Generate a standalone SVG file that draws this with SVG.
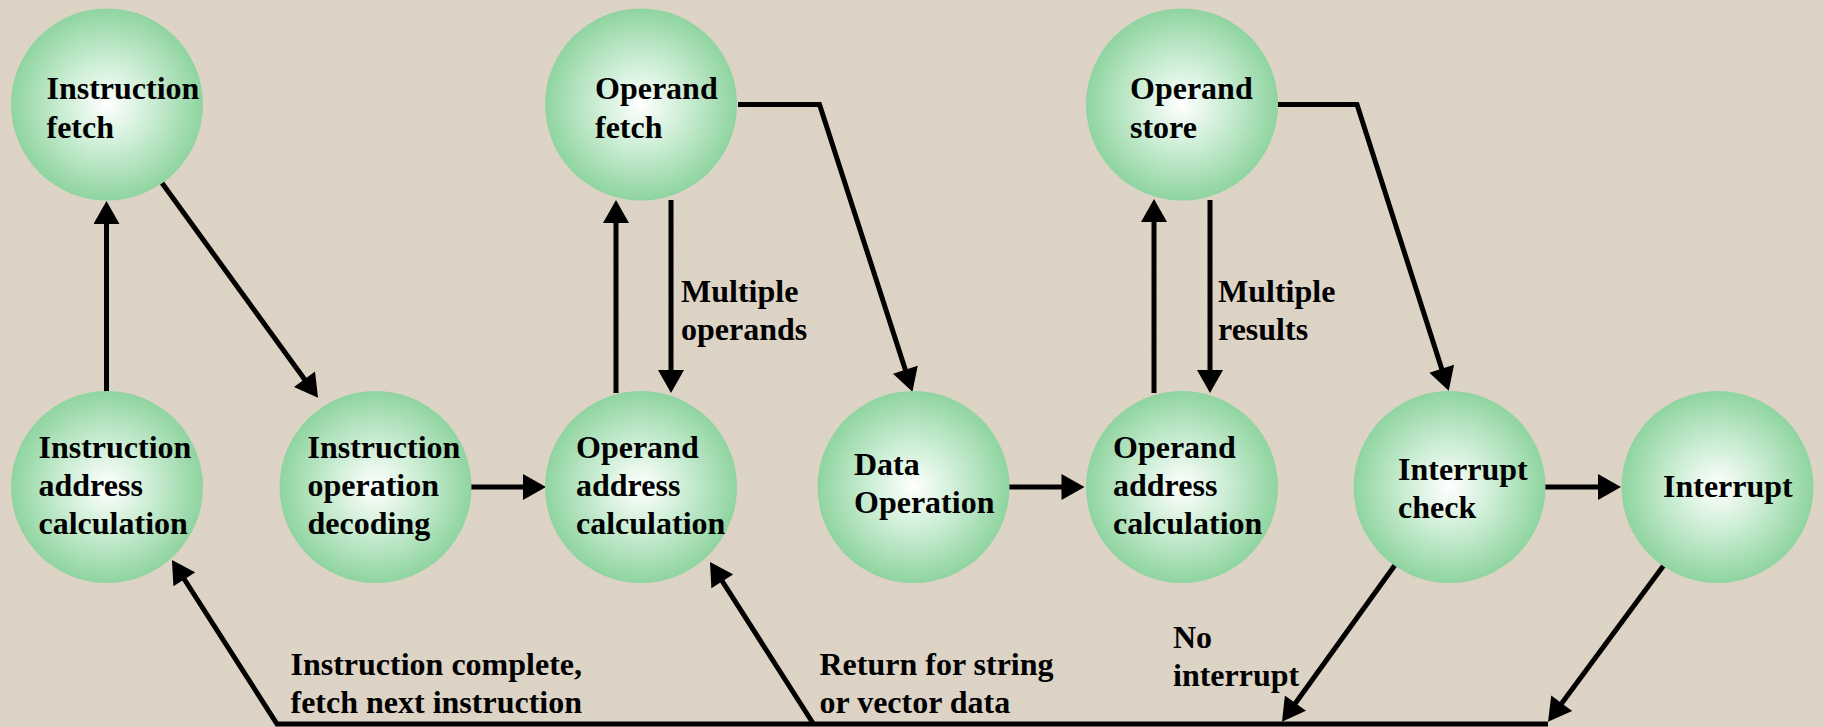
<svg xmlns="http://www.w3.org/2000/svg" width="1824" height="727" viewBox="0 0 1824 727">
  <defs>
    <radialGradient id="ball" cx="50%" cy="50%" r="50%">
      <stop offset="0" stop-color="#ffffff"/>
      <stop offset="0.45" stop-color="#cdeed5"/>
      <stop offset="1" stop-color="#8fd4a0"/>
    </radialGradient>
    <marker id="ah" markerUnits="userSpaceOnUse" markerWidth="26" markerHeight="26" refX="17" refY="13" orient="auto" viewBox="0 0 24 26">
      <path d="M0,0 L23,13 L0,26 Z" fill="#000"/>
    </marker>
    <filter id="grain" x="0" y="0" width="100%" height="100%">
      <feTurbulence type="fractalNoise" baseFrequency="0.9" numOctaves="2" seed="3" result="n"/>
      <feColorMatrix in="n" type="matrix" values="0 0 0 0 0.55  0 0 0 0 0.5  0 0 0 0 0.44  0 0 0 -1.2 0.75" result="c"/>
      <feComposite in="c" in2="SourceGraphic" operator="in"/>
    </filter>
  </defs>
  <style>
    .node ellipse { fill: url(#ball); }
    text { font-family: "Liberation Serif", "Times New Roman", serif; font-weight: bold; font-size: 32px; fill: #000; }
    .conn path { fill: none; stroke: #000; stroke-width: 5; }
    .arr { marker-end: url(#ah); }
  </style>
  <rect x="0" y="0" width="1824" height="727" fill="#ded5c7"/>
  <rect x="0" y="0" width="1824" height="727" fill="#ded5c7" filter="url(#grain)" opacity="0.35"/>

  <g id="connectors" class="conn">
    <path class="arr" d="M106.5,392 L106.5,207"/>
    <path class="arr" d="M162,183 L314.5,393"/>
    <path class="arr" d="M470,487 L540,487"/>
    <path class="arr" d="M616,393 L616,206"/>
    <path class="arr" d="M671,200 L671,387"/>
    <path class="arr" d="M738,104.5 L819.5,104.5 L910.6,386"/>
    <path class="arr" d="M1007,487 L1078.5,487"/>
    <path class="arr" d="M1154,393 L1154,205"/>
    <path class="arr" d="M1210,200 L1210,387"/>
    <path class="arr" d="M1276,104.5 L1357,104.5 L1446.9,385"/>
    <path class="arr" d="M1544,487 L1615,487"/>
    <path class="arr" d="M1395,565 L1285.5,717"/>
    <path class="arr" d="M1664,565 L1551.6,717"/>
    <path class="arr" d="M1548,724 L277,724 L175.2,565"/>
    <path class="arr" d="M813.5,724 L713.2,567"/>
  </g>

  <g id="n-instruction-fetch" class="node">
    <ellipse cx="107" cy="104.5" rx="96" ry="96"/>
    <text x="46.5" y="99">Instruction</text>
    <text x="46.5" y="137.5">fetch</text>
  </g>
  <g id="n-operand-fetch" class="node">
    <ellipse cx="641" cy="104.5" rx="96" ry="96"/>
    <text x="595" y="99">Operand</text>
    <text x="595" y="137.5">fetch</text>
  </g>
  <g id="n-operand-store" class="node">
    <ellipse cx="1182" cy="104.5" rx="96" ry="96"/>
    <text x="1130" y="99">Operand</text>
    <text x="1130" y="137.5">store</text>
  </g>
  <g id="n-instr-addr-calc" class="node">
    <ellipse cx="107" cy="487" rx="96" ry="96"/>
    <text x="38.5" y="457.5">Instruction</text>
    <text x="38.5" y="495.5">address</text>
    <text x="38.5" y="533.5">calculation</text>
  </g>
  <g id="n-instr-op-decoding" class="node">
    <ellipse cx="375.5" cy="487" rx="96" ry="96"/>
    <text x="307.5" y="457.5">Instruction</text>
    <text x="307.5" y="495.5">operation</text>
    <text x="307.5" y="533.5">decoding</text>
  </g>
  <g id="n-operand-addr-calc-1" class="node">
    <ellipse cx="641" cy="487" rx="96" ry="96"/>
    <text x="576" y="457.5">Operand</text>
    <text x="576" y="495.5">address</text>
    <text x="576" y="533.5">calculation</text>
  </g>
  <g id="n-data-operation" class="node">
    <ellipse cx="913.5" cy="487" rx="96" ry="96"/>
    <text x="854" y="475">Data</text>
    <text x="854" y="513">Operation</text>
  </g>
  <g id="n-operand-addr-calc-2" class="node">
    <ellipse cx="1182" cy="487" rx="96" ry="96"/>
    <text x="1113" y="457.5">Operand</text>
    <text x="1113" y="495.5">address</text>
    <text x="1113" y="533.5">calculation</text>
  </g>
  <g id="n-interrupt-check" class="node">
    <ellipse cx="1449.5" cy="487" rx="96" ry="96"/>
    <text x="1398" y="480">Interrupt</text>
    <text x="1398" y="518">check</text>
  </g>
  <g id="n-interrupt" class="node">
    <ellipse cx="1717.5" cy="487" rx="96" ry="96"/>
    <text x="1663" y="496.5">Interrupt</text>
  </g>

  <g id="labels">
    <text x="681" y="301.5">Multiple</text>
    <text x="681" y="340">operands</text>
    <text x="1218" y="301.5">Multiple</text>
    <text x="1218" y="340">results</text>
    <text x="290.5" y="675">Instruction complete,</text>
    <text x="290.5" y="713">fetch next instruction</text>
    <text x="819.5" y="675">Return for string</text>
    <text x="819.5" y="713">or vector data</text>
    <text x="1173" y="648">No</text>
    <text x="1173" y="686">interrupt</text>
  </g>
</svg>
